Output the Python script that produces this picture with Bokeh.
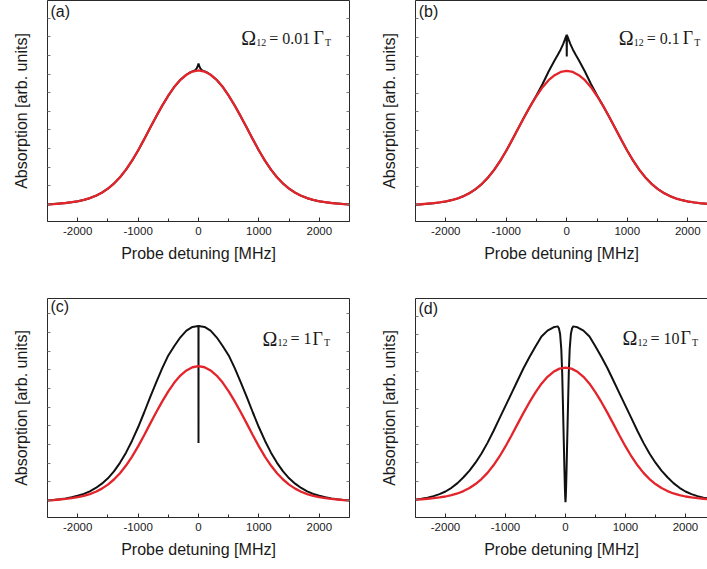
from bokeh.plotting import figure
from bokeh.models import Range1d, FixedTicker, LinearAxis, Label, CustomJSTickFormatter
from bokeh.layouts import column, row
from bokeh.embed import file_html
from bokeh.resources import INLINE

# ---------------- data ----------------
detuning = list(range(-2500, 2501, 100))  # MHz sampling grid

# red curve (same in all four panels), normalised so that its peak = 1
red = [0.000, 0.003, 0.007, 0.011, 0.017, 0.024, 0.034, 0.047, 0.065, 0.088,
       0.118, 0.156, 0.203, 0.260, 0.327, 0.403, 0.486, 0.572, 0.657, 0.738,
       0.812, 0.878, 0.930, 0.968, 0.992, 1.000, 0.992, 0.968, 0.930, 0.878,
       0.812, 0.738, 0.657, 0.572, 0.486, 0.403, 0.327, 0.260, 0.203, 0.156,
       0.118, 0.088, 0.065, 0.047, 0.034, 0.024, 0.017, 0.011, 0.007, 0.003,
       0.000]

# (a) Omega12 = 0.01 Gamma_T : tiny cusp at the centre
black_a_center_x = [-200, -150, -100, -60, -30, -10, -3, 0, 3, 10, 30, 60, 100, 150, 200]
black_a_center_y = [0.968, 0.983, 0.993, 1.000, 1.015, 1.035, 1.048, 1.050,
                    1.048, 1.035, 1.015, 1.000, 0.993, 0.983, 0.968]

# (b) Omega12 = 0.1 Gamma_T : narrow cusp with a very narrow dip
black_b_center_x = [-600, -500, -400, -300, -200, -150, -100, -60, -30, -10, -3, 0,
                    3, 10, 30, 60, 100, 150, 200, 300, 400, 500, 600]
black_b_center_y = [0.740, 0.818, 0.902, 0.995, 1.080, 1.118, 1.160, 1.200, 1.235, 1.260, 1.270, 1.107,
                    1.270, 1.260, 1.235, 1.200, 1.160, 1.118, 1.080, 0.995, 0.902, 0.818, 0.740]

# (c) Omega12 = 1 Gamma_T : taller profile, extremely narrow dip
black_c_grid = [0.000, 0.004, 0.009, 0.015, 0.024, 0.035, 0.049, 0.068, 0.093, 0.125,
                0.165, 0.216, 0.280, 0.356, 0.445, 0.545, 0.655, 0.770, 0.880, 0.985,
                1.080, 1.150, 1.215, 1.265, 1.292, 1.300, 1.292, 1.265, 1.215, 1.150,
                1.080, 0.985, 0.880, 0.770, 0.655, 0.545, 0.445, 0.356, 0.280, 0.216,
                0.165, 0.125, 0.093, 0.068, 0.049, 0.035, 0.024, 0.015, 0.009, 0.004,
                0.000]
black_c_center_x = [-1, 0, 1]
black_c_center_y = [1.300, 0.427, 1.300]

# (d) Omega12 = 10 Gamma_T : wide doublet with deep central dip
black_d_wing_left = [0.000, 0.007, 0.015, 0.027, 0.042, 0.062, 0.090, 0.125, 0.170, 0.220,
                     0.280, 0.350, 0.430, 0.520, 0.615, 0.710, 0.805, 0.900, 0.995, 1.080,
                     1.160, 1.235, 1.280, 1.305]            # -2500 ... -200 MHz
black_d_wing_right = [1.305, 1.280, 1.235, 1.160, 1.080, 0.995, 0.900, 0.805, 0.710, 0.615,
                      0.520, 0.430, 0.350, 0.280, 0.220, 0.170, 0.125, 0.090, 0.062, 0.042,
                      0.027, 0.015, 0.007, 0.000]           # 200 ... 2500 MHz
black_d_center_x = [-150, -130, -110, -90, -70, -55, -45, -35, -25, -17, -10, -5, 0,
                    5, 10, 17, 25, 35, 45, 55, 70, 90, 110, 130, 150]
black_d_center_y = [1.310, 1.312, 1.298, 1.255, 1.140, 0.960, 0.770, 0.570, 0.375, 0.215, 0.090, 0.020, -0.020,
                    0.020, 0.090, 0.215, 0.375, 0.570, 0.770, 0.960, 1.140, 1.255, 1.298, 1.312, 1.310]

x_ticks = [-2000, -1000, 0, 1000, 2000]
x_tick_labels = ["-2000", "-1000", "0", "1000", "2000"]
x_minor_ticks = [-2500, -1500, -500, 500, 1500, 2500]
y_ticks = [0.0, 0.139, 0.278, 0.417, 0.556, 0.694, 0.833, 0.972, 1.111, 1.25, 1.389]

panel_letters = ["(a)", "(b)", "(c)", "(d)"]
omega_values = ["0.01", "0.1", "1", "10"]

black_x = [
    detuning[:23] + black_a_center_x + detuning[28:],
    detuning[:19] + black_b_center_x + detuning[32:],
    detuning[:25] + black_c_center_x + detuning[26:],
    detuning[:24] + black_d_center_x + detuning[27:],
]
black_y = [
    red[:23] + black_a_center_y + red[28:],
    red[:19] + black_b_center_y + red[32:],
    black_c_grid[:25] + black_c_center_y + black_c_grid[26:],
    black_d_wing_left + black_d_center_y + black_d_wing_right,
]

# ---------------- styling / layout ----------------
SANS = "Liberation Sans"
SERIF = "Liberation Serif"
AX_COL = "#2a2a2a"
TXT_COL = "#1a1a1a"
RED = "#e3242b"
BLACK = "#111111"

geo = [
    dict(w=360, h=285, bl=47, br=11, bt=0, bb=64, xe=2500, ys=-0.127, ye=1.522, full=True,
         om_x=707, om_y=1.239, gam=72.3, let_x=-2450, let_y=1.507, sub=0.03),
    dict(w=347, h=285, bl=55, br=0, bt=0, bb=62, xe=2326, ys=-0.126, ye=1.526, full=False,
         om_x=860, om_y=1.242, gam=64.0, let_x=-2446, let_y=1.511, sub=0.03),
    dict(w=360, h=284, bl=47, br=11, bt=13, bb=52, xe=2500, ys=-0.127, ye=1.504, full=True,
         om_x=1060, om_y=1.206, gam=50.0, let_x=-2450, let_y=1.511, sub=0.03),
    dict(w=347, h=284, bl=55, br=0, bt=13, bb=50, xe=2367, ys=-0.135, ye=1.523, full=False,
         om_x=950, om_y=1.223, gam=58.0, let_x=-2450, let_y=1.515, sub=0.03),
]

empty_fmt = "return ''"


def make_panel(i):
    g = geo[i]
    p = figure(width=g["w"], height=g["h"], output_backend="svg", toolbar_location=None,
               x_range=Range1d(-2500, g["xe"]), y_range=Range1d(g["ys"], g["ye"]),
               min_border_left=g["bl"], min_border_right=g["br"],
               min_border_top=g["bt"], min_border_bottom=g["bb"],
               background_fill_color="white", border_fill_color="white")
    p.outline_line_color = None
    p.xgrid.visible = False
    p.ygrid.visible = False

    xa = p.xaxis[0]
    xa.ticker = FixedTicker(ticks=x_ticks, minor_ticks=x_minor_ticks)
    xa.major_label_overrides = dict(zip(x_ticks, x_tick_labels))
    xa.major_tick_in = 4
    xa.major_tick_out = 0
    xa.minor_tick_in = 3
    xa.minor_tick_out = 0
    xa.axis_line_color = AX_COL
    xa.major_tick_line_color = AX_COL
    xa.minor_tick_line_color = AX_COL
    xa.major_label_text_font = SANS
    xa.major_label_text_font_size = "11.5px"
    xa.major_label_text_color = TXT_COL
    xa.major_label_standoff = 5
    xa.axis_label = "Probe detuning [MHz]"
    xa.axis_label_text_font = SANS
    xa.axis_label_text_font_size = "16px"
    xa.axis_label_text_font_style = "normal"
    xa.axis_label_text_color = TXT_COL
    xa.axis_label_standoff = 7

    ya = p.yaxis[0]
    ya.ticker = FixedTicker(ticks=y_ticks)
    ya.formatter = CustomJSTickFormatter(code=empty_fmt)
    ya.major_tick_in = 3
    ya.major_tick_out = 0
    ya.minor_tick_in = 0
    ya.minor_tick_out = 0
    ya.axis_line_color = AX_COL
    ya.major_tick_line_color = "#777777"
    ya.major_label_standoff = 0
    ya.axis_label = "Absorption [arb. units]"
    ya.axis_label_text_font = SANS
    ya.axis_label_text_font_size = "16px"
    ya.axis_label_text_font_style = "normal"
    ya.axis_label_text_color = TXT_COL
    ya.axis_label_standoff = 18

    top = LinearAxis(ticker=FixedTicker(ticks=[]), major_tick_in=0, major_tick_out=0,
                     minor_tick_in=0, minor_tick_out=0, major_label_standoff=0,
                     axis_line_color=AX_COL,
                     formatter=CustomJSTickFormatter(code=empty_fmt))
    p.add_layout(top, "above")

    if g["full"]:
        right = LinearAxis(ticker=FixedTicker(ticks=y_ticks), major_tick_in=3, major_tick_out=0,
                           minor_tick_in=0, minor_tick_out=0, major_label_standoff=0,
                           axis_line_color=AX_COL, major_tick_line_color="#777777",
                           formatter=CustomJSTickFormatter(code=empty_fmt))
        p.add_layout(right, "right")

    p.line(black_x[i], black_y[i], line_color=BLACK, line_width=2)
    p.line(detuning, red, line_color=RED, line_width=2.3)

    p.add_layout(Label(x=g["let_x"], y=g["let_y"], text=panel_letters[i], text_font=SANS,
                       text_font_size="16px", text_color=TXT_COL, text_baseline="top"))

    ox, oy, sub = g["om_x"], g["om_y"], g["sub"]
    pieces = [
        ("\u03a9", 0.0, oy, "20px"),
        ("12", 15.0, oy - sub, "10px"),
        ("= " + omega_values[i], 28.0, oy, "16px"),
        ("\u0393", g["gam"], oy, "18px"),
        ("T", g["gam"] + 11.5, oy - sub, "10px"),
    ]
    for txt, dx, yy, fs in pieces:
        p.add_layout(Label(x=ox, y=yy, x_offset=dx, text=txt, text_font=SERIF,
                           text_font_size=fs, text_color=TXT_COL,
                           text_baseline="alphabetic", text_align="left"))
    return p


panels = [make_panel(i) for i in range(4)]
layout = column(row(panels[0], panels[1]), row(panels[2], panels[3]))

open("out.html", "w").write(file_html(layout, INLINE))
